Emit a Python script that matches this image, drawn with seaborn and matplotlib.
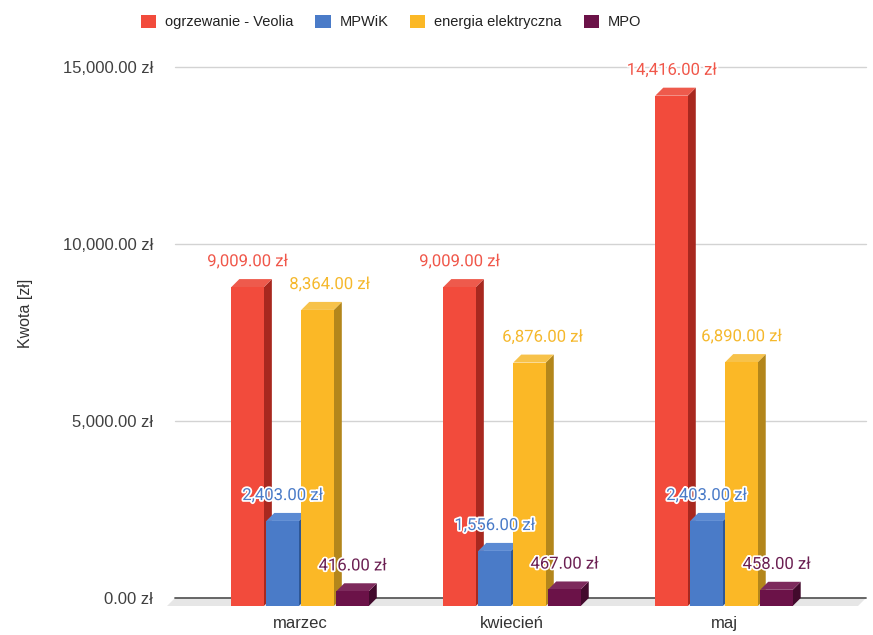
import matplotlib
matplotlib.use("Agg")
import matplotlib.pyplot as plt
import matplotlib.patheffects as pe
from matplotlib.patches import Polygon
from matplotlib.ticker import FuncFormatter
import numpy as np
import pandas as pd
import seaborn as sns

# --- data -------------------------------------------------------------
months = ["marzec", "kwiecień", "maj"]
series = ["ogrzewanie - Veolia", "MPWiK", "energia elektryczna", "MPO"]
veolia = [9009.00, 9009.00, 14416.00]
mpwik = [2403.00, 1556.00, 2403.00]
energia = [8364.00, 6876.00, 6890.00]
mpo = [416.00, 467.00, 458.00]
y_ticks = [0, 5000, 10000, 15000]

# --- style ------------------------------------------------------------
front_colors = ["#F24B3C", "#4A7BC8", "#FBB826", "#6B1248"]
side_colors = ["#A8281F", "#2E5796", "#B3861B", "#420A2C"]
top_colors = ["#EE5A4C", "#5B8AD3", "#F7C24A", "#7D2A5C"]
label_colors = ["#F0574A", "#4A7BC8", "#F5B82C", "#6B1F52"]
# horizontal nudge (px) for labels that would collide with a neighbour
label_nudge = {(0, 2): 12, (1, 2): 13}

sns.set_theme(style="white")
plt.rcParams["font.family"] = ["Liberation Sans", "DejaVu Sans"]

values = [veolia, mpwik, energia, mpo]
df = pd.DataFrame({
    "miesiąc": months * len(series),
    "rodzaj": [s for s in series for _ in months],
    "kwota": [v for vals in values for v in vals],
})

W, H = 873, 635
fig = plt.figure(figsize=(W / 100, H / 100), dpi=100)
ax_left, ax_right, ax_top, ax_bottom = 175, 866, 60, 612
ax = fig.add_axes([ax_left / W, 1 - ax_bottom / H,
                   (ax_right - ax_left) / W, (ax_bottom - ax_top) / H])

sns.barplot(data=df, x="miesiąc", y="kwota", hue="rodzaj",
            order=months, hue_order=series, palette=front_colors,
            saturation=1, width=0.66, gap=0.07, ax=ax, legend=True,
            linewidth=0, zorder=3)

# axis ranges: 0 line at px 598, 5000 units per 177 px
px_per_unit = 177.0 / 5000.0
y_lo = -(ax_bottom - 598) / px_per_unit
y_hi = (598 - ax_top) / px_per_unit
x_lo, x_hi = -0.59, 2.67
ax.set_xlim(x_lo, x_hi)
ax.set_ylim(y_lo, y_hi)
px_per_x = (ax_right - ax_left) / (x_hi - x_lo)

depth_px = 8
dx = depth_px / px_per_x
dy = depth_px / px_per_unit

# floor of the 3D box
floor = Polygon([(x_lo, 0), (x_hi, 0), (x_hi - dx, -dy), (x_lo - dx, -dy)],
                closed=True, facecolor="#E6E6E6", edgecolor="none",
                zorder=1, clip_on=False)
ax.add_patch(floor)

# grid lines
ax.set_yticks(y_ticks)
for t in y_ticks:
    ax.axhline(t, color="#5A5A5A" if t == 0 else "#D3D3D3",
               lw=1.3 if t == 0 else 1.0, zorder=2, clip_on=False)

# turn flat bars into prisms: shift the front face forward, add side and top
for si, cont in enumerate(ax.containers):
    for mi, bar in enumerate(cont.patches):
        x0 = bar.get_x()
        w = bar.get_width()
        h = bar.get_height()
        bar.set_y(-dy)
        bar.set_zorder(4 + mi * 4 + si * 0.1)
        side = Polygon([(x0 + w, -dy), (x0 + w + dx, 0),
                        (x0 + w + dx, h), (x0 + w, h - dy)],
                       closed=True, facecolor=side_colors[si],
                       edgecolor="none", zorder=bar.get_zorder() - 0.05)
        top = Polygon([(x0, h - dy), (x0 + w, h - dy),
                       (x0 + w + dx, h), (x0 + dx, h)],
                      closed=True, facecolor=top_colors[si],
                      edgecolor="none", zorder=bar.get_zorder() - 0.05)
        ax.add_patch(side)
        ax.add_patch(top)
        nudge = label_nudge.get((mi, si), 0)
        ax.annotate(f"{values[si][mi]:,.2f} zł",
                    xy=(x0 + w / 2, values[si][mi]),
                    xytext=(nudge * 0.72, 12.5), textcoords="offset points",
                    ha="center", va="center", fontsize=12,
                    family=["Roboto", "DejaVu Sans"],
                    color=label_colors[si], zorder=30,
                    path_effects=[pe.withStroke(linewidth=2.5,
                                                foreground="white")])

ax.yaxis.set_major_formatter(FuncFormatter(lambda v, _: f"{v:,.2f} zł"))
ax.tick_params(axis="y", length=0, pad=16, labelsize=12, labelcolor="#404040")
ax.tick_params(axis="x", length=0, pad=3, labelsize=12, labelcolor="#333333")
ax.set_xlabel("")
ax.set_ylabel("Kwota [zł]", fontsize=11.5, color="#333333")
ax.yaxis.set_label_coords((33 - ax_left) / (ax_right - ax_left),
                          (ax_bottom - 313) / (ax_bottom - ax_top))
for s in ax.spines.values():
    s.set_visible(False)
ax.grid(False)

# legend across the top
handles, labels = ax.get_legend_handles_labels()
ax.get_legend().remove()
fig.legend(handles, labels, loc="center", ncol=4,
           bbox_to_anchor=(391 / W, 1 - 22 / H), frameon=False,
           fontsize=10.5, handlelength=1.05, handleheight=1.05,
           handletextpad=0.6, columnspacing=1.5, labelcolor="#222222")

fig.savefig("out.png", dpi=100, facecolor="white")
